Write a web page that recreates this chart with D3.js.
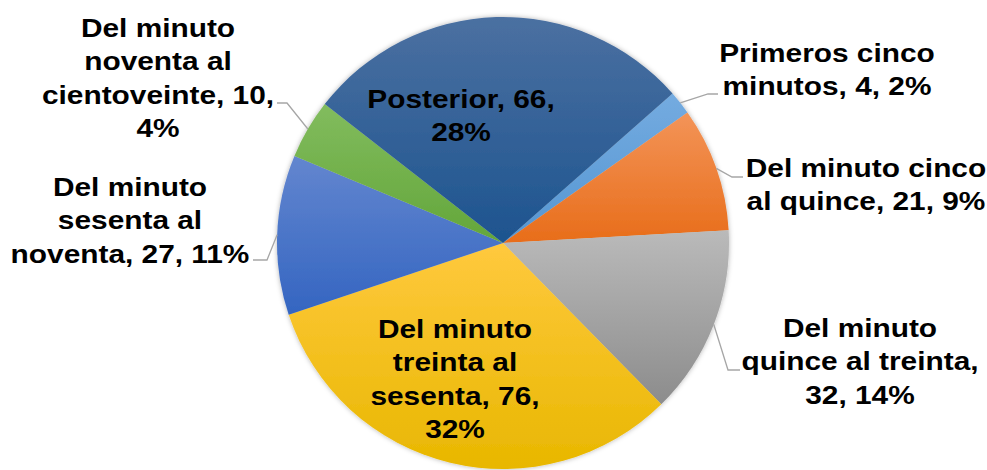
<!DOCTYPE html>
<meta charset="utf-8">
<head>
    <title>Pie</title>
    <script src="https://d3js.org/d3.v7.min.js"></script>
</head>
<style>
    body {
        margin: 0;
        background-color: #ffffff;
    }
    .label {
        font: bold 25.5px "Liberation Sans", Arial, sans-serif;
        fill: #000000;
        text-anchor: middle;
    }
    .leader {
        fill: none;
        stroke: #a6a6a6;
        stroke-width: 1.3px;
    }
</style>
<body>
<svg width="987" height="470"></svg>
<script>
    // data
    var categories = ["Primeros cinco minutos", "Del minuto cinco al quince", "Del minuto quince al treinta",
        "Del minuto treinta al sesenta", "Del minuto sesenta al noventa", "Del minuto noventa al cientoveinte", "Posterior"];
    var values = [4, 21, 32, 76, 27, 10, 66];
    var percents = [2, 9, 14, 32, 11, 4, 28];

    // gradient colours per slice (top, bottom)
    var colorsTop = ["#74abe0", "#f39458", "#bababa", "#ffc93e", "#6386cf", "#82bc5e", "#4b70a1"];
    var colorsBottom = ["#5596d2", "#e86d1a", "#8c8c8c", "#e8b700", "#3465c1", "#63a63a", "#1d548f"];

    // label lines and placement (layout only)
    var labelLines = [
        ["Primeros cinco", "minutos, 4, 2%"],
        ["Del minuto cinco", "al quince, 21, 9%"],
        ["Del minuto", "quince al treinta,", "32, 14%"],
        ["Del minuto", "treinta al", "sesenta, 76,", "32%"],
        ["Del minuto", "sesenta al", "noventa, 27, 11%"],
        ["Del minuto", "noventa al", "cientoveinte, 10,", "4%"],
        ["Posterior, 66,", "28%"]
    ];
    var labelPos = [[827, 62], [866, 177], [860, 337], [455, 338], [130, 196], [158, 37], [461, 108]];
    // leader elbows: [elbowX, elbowY, endX] or null for inside labels
    var leaders = [[708, 94, 718], [732, 177, 743], [728, 370, 740], null, [267, 260, 253], [287, 103, 277], null];

    var svg = d3.select("svg"),
        cx = 503, cy = 243, radius = 226, lineH = 33.4, stretch = 1.17;

    var defs = svg.append("defs");
    var shadow = defs.append("filter").attr("id", "shadow")
        .attr("x", "-10%").attr("y", "-10%").attr("width", "120%").attr("height", "120%");
    shadow.append("feDropShadow").attr("dx", 0).attr("dy", 0).attr("stdDeviation", 2.5)
        .attr("flood-color", "#000").attr("flood-opacity", 0.3);

    values.forEach(function(v, i) {
        var lg = defs.append("linearGradient").attr("id", "grad" + i)
            .attr("x1", 0).attr("y1", 0).attr("x2", 0).attr("y2", 1);
        lg.append("stop").attr("offset", "0%").attr("stop-color", colorsTop[i]);
        lg.append("stop").attr("offset", "100%").attr("stop-color", colorsBottom[i]);
    });

    var startAngle = 48.6 * Math.PI / 180;
    var pie = d3.pie().sort(null).value(function(d) { return d; })
        .startAngle(startAngle).endAngle(startAngle + 2 * Math.PI);
    var arc = d3.arc().innerRadius(0).outerRadius(radius);
    var arcs = pie(values);

    var g = svg.append("g").attr("transform", "translate(" + cx + "," + cy + ")");

    g.append("g").attr("filter", "url(#shadow)")
        .selectAll("path")
        .data(arcs)
        .enter().append("path")
        .attr("d", arc)
        .attr("fill", function(d, i) { return "url(#grad" + i + ")"; });

    // leader lines
    arcs.forEach(function(d, i) {
        if (!leaders[i]) return;
        var a = (d.startAngle + d.endAngle) / 2;
        var sx = cx + radius * Math.sin(a), sy = cy - radius * Math.cos(a);
        var L = leaders[i];
        svg.append("path").attr("class", "leader")
            .attr("d", d3.line()([[sx, sy], [L[0], L[1]], [L[2], L[1]]]));
    });

    // labels (font in the original is a bit wider, so stretch horizontally)
    categories.forEach(function(c, i) {
        var t = svg.append("text").attr("class", "label")
            .attr("transform", "translate(" + labelPos[i][0] + "," + labelPos[i][1] + ") scale(" + stretch + ",1)");
        labelLines[i].forEach(function(line, j) {
            t.append("tspan").attr("x", 0).attr("y", j * lineH).text(line);
        });
    });
</script>
</body>
